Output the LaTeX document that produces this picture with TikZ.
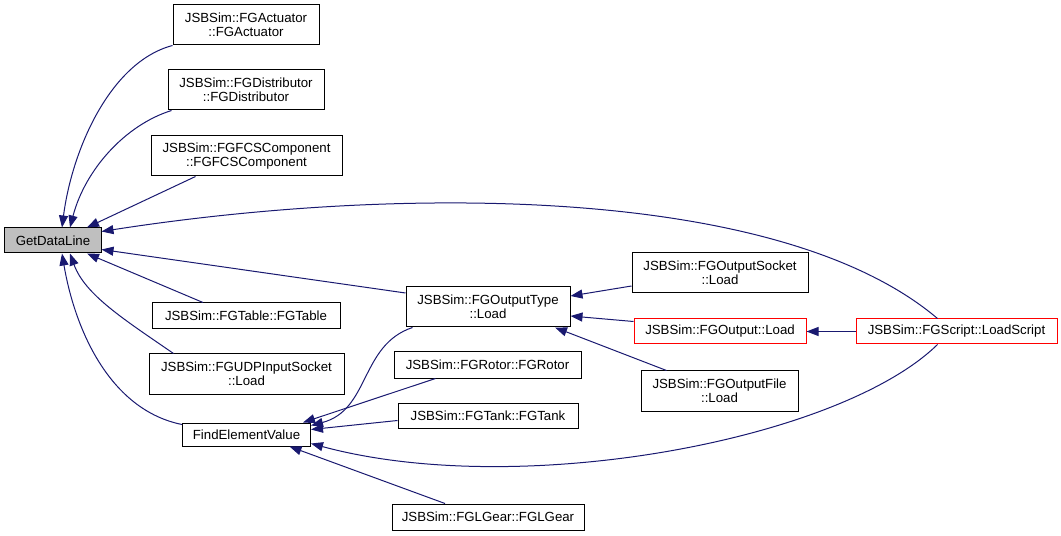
\documentclass[tikz,border=0pt]{standalone}
\usepackage{fontspec}
\setmainfont{Liberation Sans}
\usepackage{tikz}
\usetikzlibrary{arrows.meta, calc}

\definecolor{edgeblue}{HTML}{191970}
\definecolor{boxgray}{HTML}{BFBFBF}

\begin{document}
\begin{tikzpicture}[x=1bp, y=-1bp,
    fn/.style={draw=black, line width=1bp, inner sep=0pt, align=center,
      font=\fontsize{13.3}{14.5}\selectfont},
    fnred/.style={fn, draw=red},
    call/.style={draw=edgeblue, line width=1bp, -{Triangle[length=12bp, width=9bp]}}]
  \useasboundingbox (0,0) rectangle (1061,536);
  % --- Callee ---
  \node[fn, fill=boxgray, minimum width=96bp, minimum height=25bp] (gdl) at (53,240.5) {GetDataLine};
  % --- Direct callers ---
  \node[fn, minimum width=146bp, minimum height=40bp] (act) at (246,25) {JSBSim::FGActuator\\::FGActuator};
  \node[fn, minimum width=156bp, minimum height=40bp] (dist) at (246,90) {JSBSim::FGDistributor\\::FGDistributor};
  \node[fn, minimum width=191bp, minimum height=40bp] (fcs) at (246.5,156) {JSBSim::FGFCSComponent\\::FGFCSComponent};
  \node[fn, minimum width=188bp, minimum height=26bp] (tab) at (246,316) {JSBSim::FGTable::FGTable};
  \node[fn, minimum width=195bp, minimum height=40bp] (udp) at (246.5,374) {JSBSim::FGUDPInputSocket\\::Load};
  \node[fn, minimum width=128bp, minimum height=23bp] (fev) at (246.5,434.5) {FindElementValue};
  % --- Second column ---
  \node[fn, minimum width=164bp, minimum height=40bp] (otype) at (488,307) {JSBSim::FGOutputType\\::Load};
  \node[fn, minimum width=187bp, minimum height=26bp] (rotor) at (487.5,365) {JSBSim::FGRotor::FGRotor};
  \node[fn, minimum width=180bp, minimum height=25bp] (tank) at (488,415.5) {JSBSim::FGTank::FGTank};
  \node[fn, minimum width=192bp, minimum height=26bp] (lgear) at (488,517) {JSBSim::FGLGear::FGLGear};
  % --- Third column ---
  \node[fn, minimum width=176bp, minimum height=40bp] (osock) at (720,273) {JSBSim::FGOutputSocket\\::Load};
  \node[fnred, minimum width=172bp, minimum height=25bp] (oload) at (720,331.5) {JSBSim::FGOutput::Load};
  \node[fn, minimum width=157bp, minimum height=40bp] (ofile) at (719.5,391) {JSBSim::FGOutputFile\\::Load};
  \node[fnred, minimum width=201bp, minimum height=25bp] (script) at (956.5,331.5) {JSBSim::FGScript::LoadScript};
  % --- Calls into GetDataLine ---
  \draw[call] (act.south west) .. controls (110,62) and (72,150) .. ($(gdl.north)+(9,0)$);
  \draw[call] ($(dist.south west)+(4,0)$) .. controls (125,125) and (85,170) .. ($(gdl.north)+(17,0)$);
  \draw[call] ($(fcs.south)+(-51,0)$) -- ($(gdl.north)+(34,0)$);
  \draw[call] ($(script.north)+(-19,0)$) .. controls (780,185) and (400,185) .. ($(gdl.east)+(0,-9)$);
  \draw[call] ($(otype.west)+(0,-14)$) -- ($(gdl.east)+(0,9)$);
  \draw[call] ($(tab.north)+(-43,0)$) -- ($(gdl.south)+(34,0)$);
  \draw[call] ($(udp.north)+(-73,0)$) .. controls (125,320) and (85,295) .. ($(gdl.south)+(17,0)$);
  \draw[call] ($(fev.west)+(0,-10)$) .. controls (110,410) and (75,330) .. ($(gdl.south)+(9,0)$);
  % --- Calls into FindElementValue ---
  \draw[call] ($(otype.south west)+(7,0)$) .. controls (360,345) and (370,410) .. ($(fev.east)+(0,-9)$);
  \draw[call] ($(rotor.south)+(-52,0)$) -- ($(fev.north east)+(-8,0)$);
  \draw[call] ($(tank.west)+(0,5)$) -- ($(fev.east)+(0,-5)$);
  \draw[call] ($(script.south)+(-19,0)$) .. controls (840,440) and (520,500) .. ($(fev.east)+(0,9)$);
  \draw[call] ($(lgear.north)+(-43,0)$) -- ($(fev.south)+(43,0)$);
  % --- Calls into FGOutputType::Load ---
  \draw[call] ($(osock.west)+(0,13)$) -- ($(otype.east)+(0,-11)$);
  \draw[call] ($(oload.west)+(0,-10)$) -- ($(otype.east)+(0,9)$);
  \draw[call] ($(ofile.north)+(-53,0)$) -- ($(otype.south)+(67,0)$);
  \draw[call] (script.west) -- (oload.east);
\end{tikzpicture}
\end{document}
